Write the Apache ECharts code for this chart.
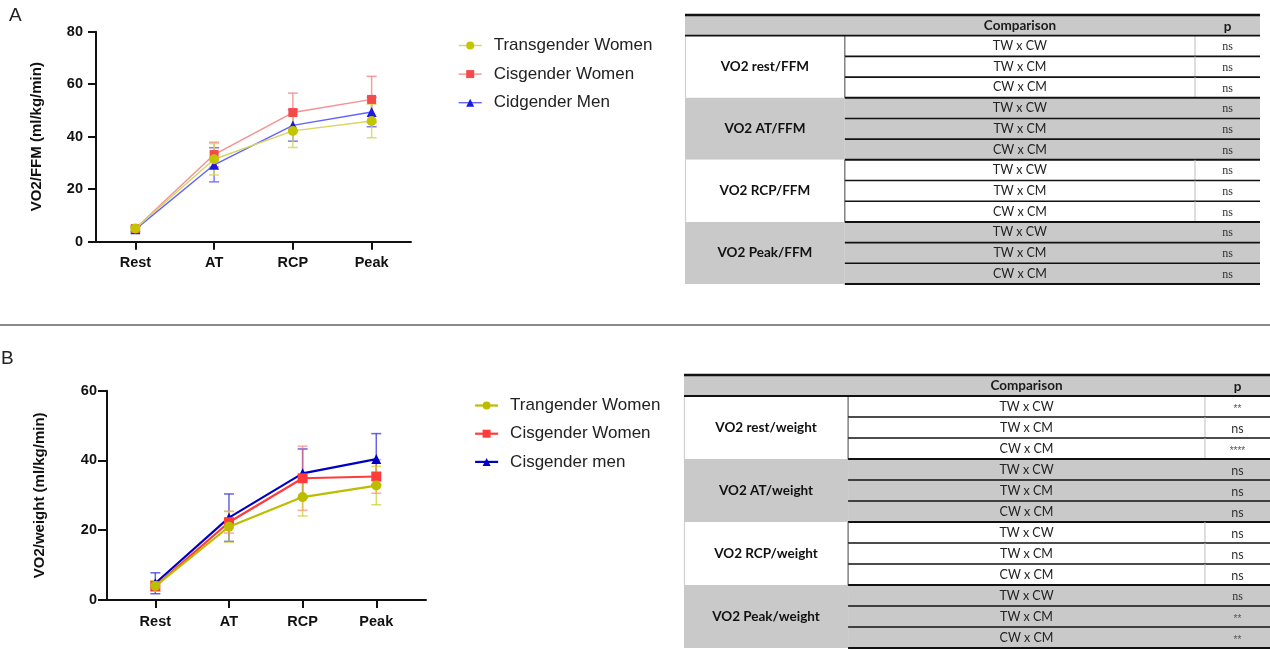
<!DOCTYPE html>
<html><head><meta charset="utf-8">
<script src="https://cdn.jsdelivr.net/npm/echarts@6/dist/echarts.min.js"></script>
<style>html,body{margin:0;padding:0;background:#fff}#c{width:1270px;height:650px}</style>
</head><body><div id="c"></div>
<script>
// ---------- data ----------
const categories = ['Rest', 'AT', 'RCP', 'Peak'];
const namesA = ['Transgender Women', 'Cisgender Women', 'Cidgender Men'];
const namesB = ['Trangender Women', 'Cisgender Women', 'Cisgender men'];
const titleA = 'VO2/FFM (ml/kg/min)';
const titleB = 'VO2/weight (ml/kg/min)';

const A_TW_mean = [5.0, 31.4, 42.2, 46.0];
const A_TW_sd   = [1.0, 6.0, 6.3, 6.4];
const A_CW_mean = [5.0, 33.2, 49.2, 54.2];
const A_CW_sd   = [1.0, 4.7, 7.4, 8.8];
const A_CM_mean = [4.7, 29.3, 44.3, 49.4];
const A_CM_sd   = [1.0, 6.5, 6.0, 5.6];

const B_TW_mean = [4.0, 21.0, 29.5, 32.8];
const B_TW_sd   = [1.5, 4.4, 5.4, 5.5];
const B_CW_mean = [4.0, 22.3, 34.9, 35.4];
const B_CW_sd   = [1.5, 3.1, 9.2, 4.8];
const B_CM_mean = [4.8, 23.6, 36.3, 40.4];
const B_CM_sd   = [3.0, 6.8, 7.0, 7.3];

const tableHeader = ['Comparison', 'p'];
const comparisons = ['TW x CW', 'TW x CM', 'CW x CM'];
const groupsA = ['VO2 rest/FFM', 'VO2 AT/FFM', 'VO2 RCP/FFM', 'VO2 Peak/FFM'];
const pA = [['ns', 'ns', 'ns'], ['ns', 'ns', 'ns'], ['ns', 'ns', 'ns'], ['ns', 'ns', 'ns']];
const groupsB = ['VO2 rest/weight', 'VO2 AT/weight', 'VO2 RCP/weight', 'VO2 Peak/weight'];
const pB = [['**', 'ns', '****'], ['ns', 'ns', 'ns'], ['ns', 'ns', 'ns'], ['ns', '**', '**']];

// ---------- styles ----------
const SANS = 'Arial, "Liberation Sans", sans-serif';
const TFONT = 'Lato, "Open Sans", sans-serif';
const SERIF = '"Liberation Serif", "DejaVu Serif", serif';
const GRAY = '#c9c9c9';

const styA = {
  TW: {sym: 'circle', size: 10, mk: '#c4c400', ln: '#d6d660', er: 'rgba(215,215,90,0.85)', lw: 1.4},
  CW: {sym: 'rect', size: 9, mk: '#f34a4a', ln: '#f59090', er: 'rgba(245,140,140,0.85)', lw: 1.4},
  CM: {sym: 'triangle', size: 10, mk: '#1a1ae0', ln: '#6262ff', er: 'rgba(100,100,255,0.85)', lw: 1.4}
};
const styB = {
  TW: {sym: 'circle', size: 10, mk: '#bdbd00', ln: '#bdbd00', er: 'rgba(205,205,40,0.7)', lw: 2.2},
  CW: {sym: 'rect', size: 10, mk: '#ff3b3b', ln: '#ff3b3b', er: 'rgba(255,110,110,0.6)', lw: 2.2},
  CM: {sym: 'triangle', size: 10, mk: '#0000c4', ln: '#0000c4', er: 'rgba(50,50,220,0.75)', lw: 2.2}
};

function pts(arr) { return arr.map((v, i) => [i, v]); }
function errData(m, s) { return m.map((v, i) => [i, v, s[i]]); }

function errSeries(name, m, s, st, idx) {
  return {
    type: 'custom', name: name + ' SD', xAxisIndex: idx, yAxisIndex: idx, z: 1, silent: true,
    data: errData(m, s), encode: {x: 0, y: 1},
    renderItem: function (params, api) {
      const x = api.value(0), mv = api.value(1), sv = api.value(2);
      const t = api.coord([x, mv + sv]), b = api.coord([x, mv - sv]);
      const cw = 5;
      const ls = {stroke: st.er, lineWidth: 1.5};
      return {type: 'group', children: [
        {type: 'line', shape: {x1: t[0], y1: t[1], x2: b[0], y2: b[1]}, style: ls},
        {type: 'line', shape: {x1: t[0] - cw, y1: t[1], x2: t[0] + cw, y2: t[1]}, style: ls},
        {type: 'line', shape: {x1: b[0] - cw, y1: b[1], x2: b[0] + cw, y2: b[1]}, style: ls}
      ]};
    }
  };
}
function lineSeries(name, m, st, idx, z) {
  return {
    type: 'line', name: name, xAxisIndex: idx, yAxisIndex: idx, z: z,
    data: pts(m), symbol: st.sym, symbolSize: st.size,
    itemStyle: {color: st.mk}, lineStyle: {color: st.ln, width: st.lw}
  };
}

function chartAxes(gi, xmin, xmax, ymax, name, nameGap, tickLen, labelMargin) {
  const idx = categories.map((_, i) => i);
  return {
    x: {
      type: 'value', gridIndex: gi, min: xmin, max: xmax, splitLine: {show: false},
      axisLine: {show: true, onZero: false, lineStyle: {color: '#111', width: 2}},
      axisTick: {show: true, length: 8, lineStyle: {color: '#111', width: 2}, customValues: idx},
      axisLabel: {customValues: idx, formatter: v => categories[Math.round(v)] || '', margin: 14,
        color: '#111', fontSize: 14.5, fontWeight: 'bold', fontFamily: SANS}
    },
    y: {
      type: 'value', gridIndex: gi, min: 0, max: ymax, interval: 20, splitLine: {show: false},
      axisLine: {show: true, onZero: false, lineStyle: {color: '#111', width: 2}},
      axisTick: {show: true, length: tickLen, lineStyle: {color: '#111', width: 2}},
      axisLabel: {margin: labelMargin, color: '#111', fontSize: 14.5, fontWeight: 'bold', fontFamily: SANS},
      name: name, nameLocation: 'middle', nameGap: nameGap,
      nameTextStyle: {color: '#111', fontSize: 15, fontWeight: 'bold', fontFamily: SANS}
    }
  };
}

// ---------- tables ----------
function tableData(groups) {
  const d = [];
  groups.forEach((g, gi) => comparisons.forEach((c, ci) => d.push([1 + gi * 3 + ci, gi, ci])));
  d.push([0, -1, -1]);
  return d;
}
function tableRender(groups, pVals, colFr, serifGroups) {
  return function (params, api) {
    const row = api.value(0), g = api.value(1), c = api.value(2);
    const a = api.coord([0, row]), b = api.coord([1, row + 1]);
    const xL = a[0], xR = b[0], yT = a[1], yB = b[1], h = yB - yT;
    const x1 = api.coord([colFr[0], row])[0], x2 = api.coord([colFr[1], row])[0];
    const ym = (yT + yB) / 2;
    const ch = [];
    function txt(t, x, y, font, fill) {
      ch.push({type: 'text', x: x, y: y, z2: 5, style: {text: t, font: font, fill: fill,
        align: 'center', verticalAlign: 'middle', textAlign: 'center', textVerticalAlign: 'middle'}});
    }
    function ln(x1_, y1_, x2_, y2_, col, w) {
      ch.push({type: 'line', z2: 10, shape: {x1: x1_, y1: y1_, x2: x2_, y2: y2_}, style: {stroke: col, lineWidth: w}});
    }
    if (row === 0) {
      ch.push({type: 'rect', z2: 0, shape: {x: xL, y: yT, width: xR - xL, height: h}, style: {fill: GRAY}});
      ln(xL, yT, xR, yT, '#111', 2.5);
      ln(xL, yB, xR, yB, '#111', 1.8);
      txt(tableHeader[0], (x1 + x2) / 2, ym, 'bold 13.5px ' + TFONT, '#1a1a1a');
      txt(tableHeader[1], (x2 + xR) / 2, ym + 1, 'bold 13.5px ' + TFONT, '#1a1a1a');
    } else {
      const white = g % 2 === 0;
      const bg = white ? '#ffffff' : GRAY;
      ch.push({type: 'rect', z2: 0, shape: {x: x1, y: yT, width: xR - x1, height: h}, style: {fill: bg}});
      if (c === 0) {
        ch.push({type: 'rect', z2: 0, shape: {x: xL, y: yT, width: x1 - xL, height: 3 * h}, style: {fill: bg}});
        txt(groups[g], (xL + x1) / 2, yT + 1.5 * h, 'bold 13.5px ' + TFONT, '#111');
        if (white) ln(xL + 0.5, yT, xL + 0.5, yT + 3 * h, '#cfcfcf', 1.2);
      }
      if (white) {
        ln(x1, yT, x1, yB, '#444', 1);
        ln(x2, yT, x2, yB, '#bdbdbd', 1);
      }
      ln(x1, yB, xR, yB, '#111', c === 2 ? 2 : 1.6);
      txt(comparisons[c], (x1 + x2) / 2, ym, '12.5px ' + TFONT, '#222');
      const p = pVals[g][c];
      const star = p.indexOf('*') >= 0;
      const font = star ? '10px ' + SANS : (serifGroups[g] ? '12px ' + SERIF : '12.5px ' + TFONT);
      txt(p, (x2 + xR) / 2, star ? ym + 3 : ym + 1, font, star ? '#555' : '#333');
    }
    return {type: 'group', children: ch};
  };
}

// ---------- option ----------
const axA = chartAxes(0, -0.5, 3.5, 80, titleA, 52, 8, 13);
const axB = chartAxes(1, -0.656, 3.675, 60, titleB, 60, 9, 10);
const hiddenX = gi => ({type: 'value', gridIndex: gi, min: 0, max: 1, show: false});
const hiddenY = gi => ({type: 'value', gridIndex: gi, min: 0, max: 13, inverse: true, show: false});

function legendData(names, sty) {
  const k = ['TW', 'CW', 'CM'];
  return names.map((n, i) => ({name: n, itemStyle: {color: sty[k[i]].mk},
    lineStyle: {color: sty[k[i]].ln, width: sty[k[i]].lw}}));
}

const option = {
  animation: false,
  backgroundColor: '#fff',
  grid: [
    {left: 96, top: 31.7, width: 315, height: 210},
    {left: 107, top: 390.7, width: 319, height: 209.3},
    {left: 685, top: 15, width: 575, height: 269},
    {left: 684, top: 375, width: 586, height: 273}
  ],
  xAxis: [axA.x, axB.x, hiddenX(2), hiddenX(3)],
  yAxis: [axA.y, axB.y, hiddenY(2), hiddenY(3)],
  legend: [
    {data: legendData(namesA, styA), orient: 'vertical', left: 458, top: 37, padding: 0,
      itemWidth: 23, itemHeight: 10, itemGap: 11.6, selectedMode: false,
      textStyle: {fontSize: 17, color: '#222', fontFamily: SANS, padding: [0, 0, 0, 7]}},
    {data: legendData(namesB, styB), orient: 'vertical', left: 474, top: 397, padding: 0,
      itemWidth: 23, itemHeight: 10, itemGap: 11.2, selectedMode: false,
      textStyle: {fontSize: 17, color: '#222', fontFamily: SANS, padding: [0, 0, 0, 7]}}
  ],
  graphic: [
    {type: 'text', left: 9, top: 6, style: {text: 'A', font: '19px ' + SANS, fill: '#222'}},
    {type: 'text', left: 1, top: 349, style: {text: 'B', font: '19px ' + SANS, fill: '#222'}},
    {type: 'line', shape: {x1: 0, y1: 325, x2: 1270, y2: 325}, style: {stroke: '#8a8a8a', lineWidth: 2}}
  ],
  series: [
    errSeries(namesA[2], A_CM_mean, A_CM_sd, styA.CM, 0),
    errSeries(namesA[1], A_CW_mean, A_CW_sd, styA.CW, 0),
    errSeries(namesA[0], A_TW_mean, A_TW_sd, styA.TW, 0),
    lineSeries(namesA[2], A_CM_mean, styA.CM, 0, 2),
    lineSeries(namesA[1], A_CW_mean, styA.CW, 0, 3),
    lineSeries(namesA[0], A_TW_mean, styA.TW, 0, 4),
    errSeries(namesB[2], B_CM_mean, B_CM_sd, styB.CM, 1),
    errSeries(namesB[1], B_CW_mean, B_CW_sd, styB.CW, 1),
    errSeries(namesB[0], B_TW_mean, B_TW_sd, styB.TW, 1),
    lineSeries(namesB[2], B_CM_mean, styB.CM, 1, 2),
    lineSeries(namesB[1], B_CW_mean, styB.CW, 1, 3),
    lineSeries(namesB[0], B_TW_mean, styB.TW, 1, 4),
    {type: 'custom', name: 'tableA', xAxisIndex: 2, yAxisIndex: 2, silent: true,
      data: tableData(groupsA), renderItem: tableRender(groupsA, pA, [0.278, 0.887], [true, true, true, true])},
    {type: 'custom', name: 'tableB', xAxisIndex: 3, yAxisIndex: 3, silent: true,
      data: tableData(groupsB), renderItem: tableRender(groupsB, pB, [0.28, 0.889], [false, false, false, true])}
  ]
};
const chart = echarts.init(document.getElementById('c'), null, {renderer: 'canvas'});
chart.setOption(option);
</script></body></html>
